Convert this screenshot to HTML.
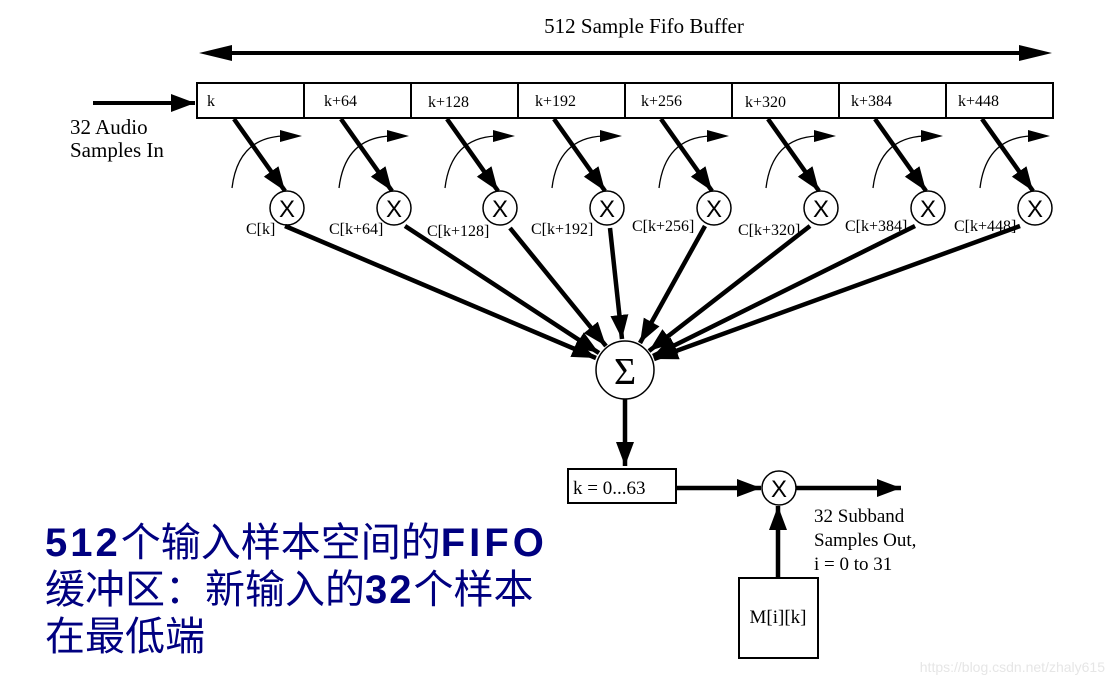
<!DOCTYPE html>
<html><head><meta charset="utf-8"><style>
html,body{margin:0;padding:0;background:#fff}
svg{display:block}
.t{font-family:"Liberation Serif",serif;fill:#000}
.x{font-family:"Liberation Sans",sans-serif;fill:#000}
.cn{font-family:"Liberation Sans","Noto Sans CJK SC",sans-serif;fill:#000080;font-size:40px}
</style></head><body>
<svg width="1115" height="685" viewBox="0 0 1115 685" xmlns="http://www.w3.org/2000/svg">
<defs>
<marker id="a" markerUnits="userSpaceOnUse" markerWidth="28" markerHeight="20" refX="24" refY="9" orient="auto"><polygon points="0,0 24,9 0,18" fill="#000"/></marker>
</defs>
<text x="644" y="33" class="t" font-size="21" text-anchor="middle">512 Sample Fifo Buffer</text>
<line x1="220" y1="53" x2="1032" y2="53" stroke="#000" stroke-width="4"/>
<polygon points="199,53 232,45 232,61" fill="#000"/>
<polygon points="1052,53 1019,45 1019,61" fill="#000"/>
<line x1="93" y1="103" x2="195" y2="103" stroke="#000" stroke-width="4" marker-end="url(#a)"/>
<text x="70" y="134" class="t" font-size="21">32 Audio</text>
<text x="70" y="157" class="t" font-size="21">Samples In</text>
<rect x="197" y="83" width="856" height="35" fill="#fff" stroke="#000" stroke-width="2"/>
<g stroke="#000" stroke-width="2">
<line x1="304" y1="83" x2="304" y2="118"/><line x1="411" y1="83" x2="411" y2="118"/><line x1="518" y1="83" x2="518" y2="118"/><line x1="625" y1="83" x2="625" y2="118"/><line x1="732" y1="83" x2="732" y2="118"/><line x1="839" y1="83" x2="839" y2="118"/><line x1="946" y1="83" x2="946" y2="118"/>
</g>
<g class="t" font-size="16">
<text x="207" y="106">k</text><text x="324" y="106">k+64</text><text x="428" y="107">k+128</text><text x="535" y="106">k+192</text><text x="641" y="106">k+256</text><text x="745" y="107">k+320</text><text x="851" y="106">k+384</text><text x="958" y="106">k+448</text>
</g>
<g id="u">
<line x1="234" y1="119" x2="285" y2="191" stroke="#000" stroke-width="4.5" marker-end="url(#a)"/>
<path d="M232,188 Q238,138 283,136" fill="none" stroke="#000" stroke-width="1.3"/>
<polygon points="280,130 302,136 280,142" fill="#000"/>
<circle cx="287" cy="208" r="17" fill="#fff" stroke="#000" stroke-width="1.5"/>
<text x="287" y="217" class="x" font-size="24" text-anchor="middle">X</text>
</g>
<use href="#u" x="107"/><use href="#u" x="213"/><use href="#u" x="320"/><use href="#u" x="427"/><use href="#u" x="534"/><use href="#u" x="641"/><use href="#u" x="748"/>
<g class="t" font-size="16">
<text x="246" y="234">C[k]</text><text x="329" y="234">C[k+64]</text><text x="427" y="236">C[k+128]</text><text x="531" y="234">C[k+192]</text><text x="632" y="231">C[k+256]</text><text x="738" y="235">C[k+320]</text><text x="845" y="231">C[k+384]</text><text x="954" y="231">C[k+448]</text>
</g>
<g stroke="#000" stroke-width="4.5" marker-end="url(#a)">
<line x1="285" y1="226" x2="596" y2="358"/>
<line x1="405" y1="226" x2="599" y2="353"/>
<line x1="510" y1="228" x2="606" y2="346"/>
<line x1="610" y1="228" x2="622" y2="339"/>
<line x1="705" y1="226" x2="640" y2="343"/>
<line x1="810" y1="226" x2="649" y2="351"/>
<line x1="915" y1="226" x2="653" y2="356"/>
<line x1="1020" y1="226" x2="654" y2="359"/>
</g>
<circle cx="625" cy="370" r="29" fill="#fff" stroke="#000" stroke-width="1.5"/>
<text x="625" y="384" class="t" font-size="38" text-anchor="middle">Σ</text>
<line x1="625" y1="399" x2="625" y2="466" stroke="#000" stroke-width="4.5" marker-end="url(#a)"/>
<rect x="568" y="469" width="108" height="34" fill="#fff" stroke="#000" stroke-width="2"/>
<text x="573" y="494" class="t" font-size="19">k = 0...63</text>
<line x1="677" y1="488" x2="761" y2="488" stroke="#000" stroke-width="4.5" marker-end="url(#a)"/>
<circle cx="779" cy="488" r="17" fill="#fff" stroke="#000" stroke-width="1.5"/>
<text x="779" y="497" class="x" font-size="24" text-anchor="middle">X</text>
<line x1="796" y1="488" x2="901" y2="488" stroke="#000" stroke-width="4.5" marker-end="url(#a)"/>
<line x1="778" y1="578" x2="778" y2="506" stroke="#000" stroke-width="4.5" marker-end="url(#a)"/>
<rect x="739" y="578" width="79" height="80" fill="#fff" stroke="#000" stroke-width="2"/>
<text x="778" y="623" class="t" font-size="19" text-anchor="middle">M[i][k]</text>
<g class="t" font-size="19">
<text x="814" y="522">32 Subband</text><text x="814" y="546">Samples Out,</text><text x="814" y="570">i = 0 to 31</text>
</g>
<text x="45" y="556" class="cn"><tspan font-weight="bold" letter-spacing="3">512</tspan>个输入样本空间的<tspan font-weight="bold" letter-spacing="4">FIFO</tspan></text>
<text x="45" y="603" class="cn">缓冲区：新输入的<tspan font-weight="bold" letter-spacing="2">32</tspan>个样本</text>
<text x="45" y="650" class="cn">在最低端</text>
<text x="1105" y="672" font-family="Liberation Sans,sans-serif" font-size="14" fill="#e6e6e6" text-anchor="end">https://blog.csdn.net/zhaly615</text>
</svg>
</body></html>
